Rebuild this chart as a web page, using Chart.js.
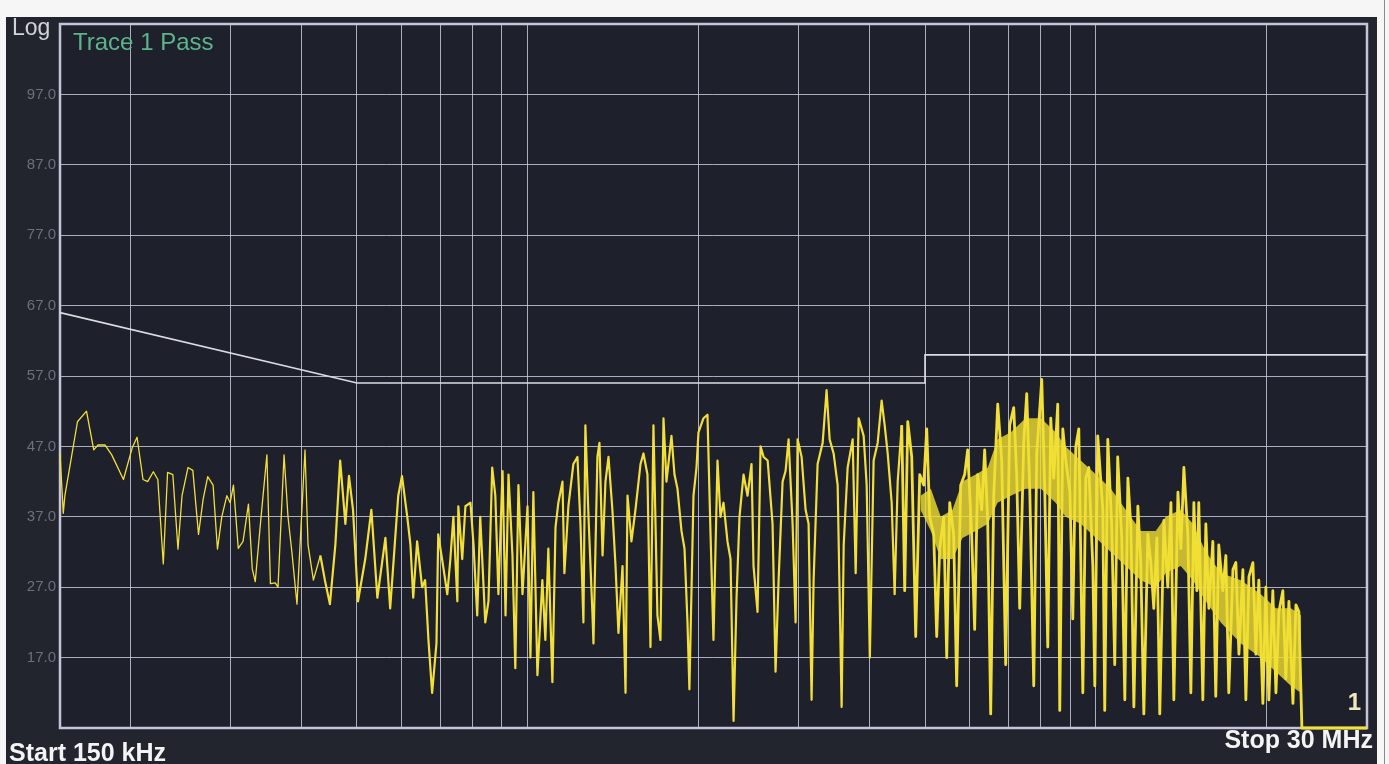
<!DOCTYPE html>
<html>
<head>
<meta charset="utf-8">
<script src="https://cdn.jsdelivr.net/npm/chart.js@4.4.1/dist/chart.umd.min.js"></script>
<style>
    html, body { margin: 0; padding: 0; background: #f6f6f6; width: 1389px; height: 764px; overflow: hidden; }
    #screen { position: absolute; left: 6px; top: 17px; width: 1371px; height: 747px; background: #22242e; }
    #edge { position: absolute; left: 1384px; top: 0; width: 1px; height: 764px; background: #8a8a8a; }
    #wrap { position: absolute; left: 0; top: 0; width: 1389px; height: 764px; }
    .lbl { position: absolute; font-family: "Liberation Sans", Arial, sans-serif; white-space: nowrap; line-height: 1; }
</style>
</head>
<body>
<div id="screen"></div>
<div id="edge"></div>
<div id="wrap"><canvas id="spectrum" width="1389" height="764"></canvas></div>
<div class="lbl" style="left:12px; top:16px; font-size:23px; color:#d2d3da;">Log</div>
<div class="lbl" style="left:73px; top:30px; font-size:24px; color:#5cb58c;">Trace 1 Pass</div>
<div class="lbl" style="left:9px; top:740px; font-size:25px; font-weight:bold; color:#f4f4f4;">Start 150 kHz</div>
<div class="lbl" style="right:16px; top:727px; font-size:25px; font-weight:bold; color:#f4f4f4;">Stop 30 MHz</div>
<div class="lbl" style="right:28px; top:690px; font-size:24px; font-weight:bold; color:#efe8bd;">1</div>
<script>
// trace, MHz / dBuV
const freqMHz = [
    0.150, 0.152, 0.153, 0.156, 0.161, 0.167, 0.172, 0.175, 0.180, 0.185,
    0.194, 0.201, 0.205, 0.210, 0.214, 0.219, 0.223, 0.228, 0.232, 0.237,
    0.242, 0.246, 0.252, 0.257, 0.263, 0.268, 0.273, 0.279, 0.284, 0.289,
    0.295, 0.299, 0.303, 0.309, 0.315, 0.322, 0.327, 0.331, 0.338, 0.347,
    0.352, 0.359, 0.363, 0.372, 0.378, 0.384, 0.392, 0.405, 0.410, 0.419,
    0.431, 0.439, 0.448, 0.458, 0.467, 0.477, 0.484, 0.492, 0.502, 0.517,
    0.530, 0.543, 0.561, 0.572, 0.591, 0.600, 0.613, 0.621, 0.628, 0.638,
    0.651, 0.659, 0.668, 0.678, 0.690, 0.695, 0.709, 0.721, 0.730, 0.739,
    0.751, 0.754, 0.766, 0.776, 0.792, 0.802, 0.814, 0.824, 0.841, 0.852,
    0.865, 0.876, 0.887, 0.902, 0.913, 0.924, 0.939, 0.950, 0.962, 0.978,
    0.998, 1.010, 1.022, 1.039, 1.060, 1.073, 1.086, 1.104, 1.118, 1.131,
    1.150, 1.159, 1.178, 1.202, 1.222, 1.237, 1.252, 1.262, 1.278, 1.299,
    1.304, 1.325, 1.336, 1.353, 1.369, 1.386, 1.408, 1.426, 1.443, 1.467,
    1.485, 1.497, 1.521, 1.546, 1.578, 1.597, 1.623, 1.643, 1.663, 1.690,
    1.711, 1.732, 1.753, 1.789, 1.811, 1.833, 1.863, 1.886, 1.909, 1.924,
    1.956, 1.980, 1.996, 2.037, 2.070, 2.096, 2.121, 2.156, 2.182, 2.209,
    2.245, 2.273, 2.301, 2.329, 2.357, 2.396, 2.435, 2.475, 2.495, 2.536,
    2.567, 2.599, 2.642, 2.695, 2.728, 2.762, 2.807, 2.841, 2.876, 2.923,
    2.959, 2.983, 3.032, 3.081, 3.119, 3.157, 3.183, 3.235, 3.302, 3.355,
    3.397, 3.452, 3.509, 3.566, 3.596, 3.654, 3.729, 3.775, 3.821, 3.899,
    3.947, 3.998, 4.060, 4.127, 4.194, 4.246, 4.298, 4.368, 4.421, 4.476,
    4.550, 4.605, 4.662, 4.738, 4.815, 4.894, 4.974, 5.035, 5.096, 5.180,
    5.243, 5.307, 5.394, 5.460, 5.527, 5.616, 5.685, 5.778, 5.872, 5.944,
    6.041, 6.115, 6.190, 6.292, 6.368, 6.446, 6.526, 6.606, 6.714, 6.824,
    6.935, 7.048, 7.164, 7.251, 7.340, 7.460, 7.552, 7.645, 7.770, 7.865,
    8.026, 8.124, 8.224, 8.325, 8.426, 8.564, 8.634, 8.741, 8.848, 8.997,
    9.102, 9.214, 9.327, 9.480, 9.596, 9.713, 9.872, 9.952, 10.07, 10.28,
    10.36, 10.49, 10.66, 10.79, 10.92, 11.10, 11.24, 11.38, 11.52, 11.66,
    11.85, 11.99, 12.14, 12.34, 12.49, 12.64, 12.80, 12.95, 13.17, 13.38,
    13.55, 13.71, 13.94, 14.11, 14.28, 14.51, 14.69, 14.87, 15.05, 15.17,
    15.42, 15.61, 15.80, 16.06, 16.25, 16.45, 16.72, 16.93, 17.13, 17.42,
    17.63, 17.85, 18.14, 18.36, 18.59, 18.89, 19.12, 19.35, 19.67, 19.91,
    20.15, 20.48, 20.74, 20.99, 21.33, 21.59, 21.86, 22.22, 22.49, 22.76,
    23.04, 30
];
const levelDb = [
    46, 37.5, 40, 44, 50.5, 52, 46.5, 47.2, 47.2, 45.8,
    42.3, 46.8, 48.3, 42.3, 42, 43.4, 42.3, 30.3, 43.3, 43,
    32.4, 40, 44, 43.6, 34.5, 39.5, 42.7, 41.5, 32.4, 37,
    40, 39, 41.5, 32.5, 33.5, 38.8, 29.6, 27.8, 36, 45.8,
    27.5, 27.6, 27, 45.8, 37, 32, 24.6, 46.5, 33, 28,
    31.5, 28, 24.6, 33, 45, 36, 42.8, 38, 25, 31,
    38, 25.5, 34, 24, 40, 42.8, 37, 33, 25.5, 33.5,
    27, 28, 19.5, 12, 19, 34.5, 30, 26, 31, 37,
    25, 38.5, 31, 38.5, 39, 33, 23, 37, 22, 25,
    44, 40, 26, 43.5, 23, 43, 31.5, 15.5, 41.5, 26,
    38.5, 17, 40.5, 14.5, 28, 19.5, 32.5, 13.5, 35.5, 39,
    42, 29, 38.5, 44.5, 45.5, 36, 22, 50, 37, 23,
    19, 45.5, 47.5, 31.5, 42, 45.5, 38, 30, 20.5, 30,
    12, 40, 33.5, 38, 44.5, 46, 43, 18.5, 50, 23,
    19.5, 51, 42, 48.5, 43, 41, 35, 32.5, 22, 12.5,
    40, 44, 49, 51, 51.5, 34.5, 19.5, 45, 37, 39,
    33.5, 31, 8, 25.5, 37, 43, 40, 44.5, 30, 23.5,
    47, 45.5, 45, 36, 15, 28, 42, 43.5, 48, 36,
    22, 48, 45.5, 38, 36, 11, 28, 44.5, 47.5, 55,
    48, 46, 41.5, 10, 33, 44, 48, 29, 51, 48.5,
    41.5, 17, 45, 47.5, 53.5, 50, 46, 39, 26, 42,
    50, 26.5, 50.5, 45.5, 20, 43, 41.5, 49.5, 37, 34.5,
    20, 32.5, 37, 17, 39, 34.5, 13, 41.5, 43, 46.5,
    34.5, 21, 43, 38, 46.5, 36.5, 9, 40, 53, 45,
    16, 50, 52.5, 43, 24, 47.5, 54.5, 41, 13, 46,
    56.5, 41, 18.5, 51, 42.5, 53, 9.5, 49.5, 45, 40.5,
    22.5, 47, 49.5, 12, 42.5, 44, 30, 13, 48.5, 38,
    9.5, 48, 35.5, 16, 45.5, 34, 11, 42.5, 35.5, 10,
    38.5, 30.5, 9, 34.5, 30.5, 24, 34, 9, 36.5, 27,
    39, 11, 40.5, 32.5, 44, 34.5, 12, 39, 26.5, 39,
    11, 36, 24, 33.5, 11.5, 33, 26.5, 31.5, 12, 29.5,
    30.5, 17.5, 29.5, 11, 28.5, 30.5, 17.5, 28, 10.5, 27,
    11, 26.5, 12, 23.5, 26.5, 14, 25, 10.5, 24.5, 23.5,
    7, 7
];

// where the sweep is too dense to resolve, the screen shows a solid band
const bandFreqMHz = [
    4.91, 5.12, 5.33, 5.59, 5.82, 6.14, 6.45, 6.71, 7.08, 7.52,
    8.00, 8.49, 8.84, 9.40, 10.0, 10.62, 11.28, 11.99, 12.74, 13.27,
    14.10, 14.81, 15.61, 16.59, 17.99, 19.51, 20.73, 22.03, 22.95
];
const bandHighDb = [
    40, 41, 37, 38, 42, 43, 44, 48, 49, 51,
    51, 49, 47, 45, 43, 41, 38, 35, 35, 37,
    38, 36, 32, 29, 28, 26, 24, 24, 23
];
const bandLowDb = [
    38, 35, 31, 31, 34, 35, 36, 39, 40, 41,
    41, 39, 37, 36, 34, 32, 30, 28, 27, 29,
    30, 28, 25, 22, 19, 17, 15, 13, 12
];

// limit line
const limitFreqMHz = [0.15, 0.5, 5, 5, 30];
const limitDb = [66, 56, 56, 60, 60];

// graticule
const gridFreqMHz = [0.2, 0.3, 0.4, 0.5, 0.6, 0.7, 0.8, 0.9, 1, 2, 3, 4, 5, 6, 7, 8, 9, 10, 20];
const levelTicks = [7, 17, 27, 37, 47, 57, 67, 77, 87, 97, 107];

const frame = {
    id: 'frame',
    beforeDraw(chart) {
        const a = chart.chartArea;
        const c = chart.ctx;
        c.save();
        c.fillStyle = '#1e202b';
        c.fillRect(a.left, a.top, a.right - a.left, a.bottom - a.top);
        c.restore();
    },
    beforeDatasetsDraw(chart) {
        const a = chart.chartArea;
        const c = chart.ctx;
        c.save();
        c.strokeStyle = '#c4c4dc';
        c.lineWidth = 2.5;
        c.strokeRect(a.left, a.top, a.right - a.left, a.bottom - a.top);
        c.restore();
    }
};

// thin trace on the sparse low end, heavier where the sweep gets dense
const traceWidth = (seg) => {
    const f = seg.p0.parsed.x;
    if (f < 0.42) return 1.3;
    if (f < 4.5) return 2.2;
    return 2.8;
};

const ctx = document.getElementById('spectrum').getContext('2d');

new Chart(ctx, {
    type: 'line',
    data: {
        datasets: [
            {
                label: 'Limit',
                data: limitFreqMHz.map((f, i) => ({ x: f, y: limitDb[i] })),
                borderColor: '#dcdce4',
                borderWidth: 1.6,
                pointRadius: 0,
                tension: 0
            },
            {
                label: 'band top',
                data: bandFreqMHz.map((f, i) => ({ x: f, y: bandHighDb[i] })),
                borderWidth: 0,
                pointRadius: 0,
                fill: false
            },
            {
                label: 'band bottom',
                data: bandFreqMHz.map((f, i) => ({ x: f, y: bandLowDb[i] })),
                borderWidth: 0,
                pointRadius: 0,
                fill: '-1',
                backgroundColor: 'rgba(240, 222, 50, 0.8)'
            },
            {
                label: 'Trace 1',
                data: freqMHz.map((f, i) => ({ x: f, y: levelDb[i] })),
                borderColor: '#f2df38',
                borderWidth: 2,
                borderJoinStyle: 'round',
                segment: { borderWidth: traceWidth },
                pointRadius: 0,
                tension: 0,
                clip: 4
            }
        ]
    },
    options: {
        responsive: false,
        animation: false,
        layout: {
            padding: { left: 6, right: 22, top: 24, bottom: 36 }
        },
        scales: {
            x: {
                type: 'logarithmic',
                min: 0.15,
                max: 30,
                afterBuildTicks: (scale) => {
                    scale.ticks = gridFreqMHz.map(v => ({ value: v }));
                },
                ticks: { display: false },
                grid: {
                    color: 'rgba(205, 210, 228, 0.8)',
                    lineWidth: 1,
                    drawTicks: false
                },
                border: { display: false }
            },
            y: {
                min: 7,
                max: 107,
                afterBuildTicks: (scale) => {
                    scale.ticks = levelTicks.map(v => ({ value: v }));
                },
                afterFit: (scale) => { scale.width = 54; },
                ticks: {
                    padding: 4,
                    color: '#6c707c',
                    font: { family: 'Liberation Sans', size: 15 },
                    callback: (v) => (v === 7 || v === 107) ? '' : v.toFixed(1)
                },
                grid: {
                    color: 'rgba(205, 210, 228, 0.8)',
                    lineWidth: 1,
                    drawTicks: false
                },
                border: { display: false }
            }
        },
        plugins: {
            legend: { display: false },
            tooltip: { enabled: false }
        }
    },
    plugins: [frame]
});
</script>
</body>
</html>
